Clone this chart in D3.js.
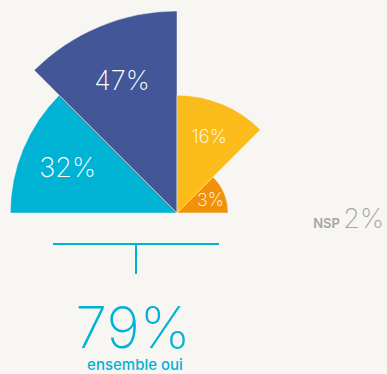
<!DOCTYPE html>
<html>
<head>
<meta charset="utf-8">
<script src="https://cdn.jsdelivr.net/npm/d3@7"></script>
<style>
  html, body { margin: 0; padding: 0; background: #F7F6F3; }
  svg { display: block; }
  text { font-family: Inter, "Open Sans", sans-serif; }
</style>
</head>
<body>
<svg id="chart" width="387" height="374"></svg>
<script>
// Answers, drawn as a half polar-area chart from left to right
const categories = ["Oui, tout à fait", "Oui, plutôt", "Non, plutôt pas", "Non, pas du tout"];
const values = [32, 47, 16, 3];
const colors = ["#00B3D5", "#435697", "#FBBC1B", "#F0900B"];
const labelSizes = [27, 27, 19, 18];
const totalYes = [79];
const totalYesLabel = ["ensemble oui"];
const noAnswer = [2];
const noAnswerLabel = ["NSP"];

const svg = d3.select("#chart");
const cx = 177, cy = 213;

const r = d3.scaleSqrt().domain([0, d3.max(values)]).range([0, 202]);
const angle = d3.scaleBand()
  .domain(categories)
  .range([-Math.PI / 2, Math.PI / 2])
  .padding(0);

const data = categories.map((c, i) => ({ c, v: values[i], color: colors[i], size: labelSizes[i] }));

const arc = d3.arc()
  .innerRadius(0)
  .outerRadius(d => r(d.v))
  .startAngle(d => angle(d.c))
  .endAngle(d => angle(d.c) + angle.bandwidth());

const g = svg.append("g").attr("transform", `translate(${cx},${cy})`);

g.selectAll("path.slice")
  .data(data)
  .join("path")
  .attr("class", "slice")
  .attr("d", arc)
  .attr("fill", d => d.color)
  .attr("stroke", "#F7F6F3")
  .attr("stroke-width", 0.5);

// Value labels sit around 70% of each slice's radius, on its middle angle
g.selectAll("text.val")
  .data(data)
  .join("text")
  .attr("class", "val")
  .attr("transform", d => {
    const a = angle(d.c) + angle.bandwidth() / 2;
    const rr = r(d.v) * 0.71;
    return `translate(${Math.sin(a) * rr},${-Math.cos(a) * rr})`;
  })
  .attr("text-anchor", "middle")
  .attr("dy", "0.36em")
  .attr("fill", "#ffffff")
  .attr("font-weight", 200)
  .attr("font-size", d => d.size)
  .text(d => d.v + "%");

// Bracket gathering the two "oui" answers
const bracket = svg.append("g").attr("stroke", "#00B3D5").attr("stroke-width", 2);
bracket.append("line").attr("x1", 53).attr("x2", 219).attr("y1", 244).attr("y2", 244);
bracket.append("line").attr("x1", 136).attr("x2", 136).attr("y1", 244).attr("y2", 274);

svg.append("text")
  .attr("x", 133).attr("y", 348)
  .attr("text-anchor", "middle")
  .attr("fill", "#00B3D5")
  .attr("font-weight", 200)
  .attr("font-size", 57)
  .text(totalYes[0] + "%");

svg.append("text")
  .attr("x", 135).attr("y", 370)
  .attr("text-anchor", "middle")
  .attr("fill", "#00B3D5")
  .attr("font-weight", 500)
  .attr("font-size", 15)
  .text(totalYesLabel[0]);

// No answer
const nsp = svg.append("text").attr("x", 384).attr("y", 228).attr("text-anchor", "end").attr("fill", "#A5A5A5");
nsp.append("tspan").attr("font-size", 13).attr("font-weight", 600).text(noAnswerLabel[0] + " ");
nsp.append("tspan").attr("font-size", 27).attr("font-weight", 200).text(noAnswer[0] + "%");
</script>
</body>
</html>
